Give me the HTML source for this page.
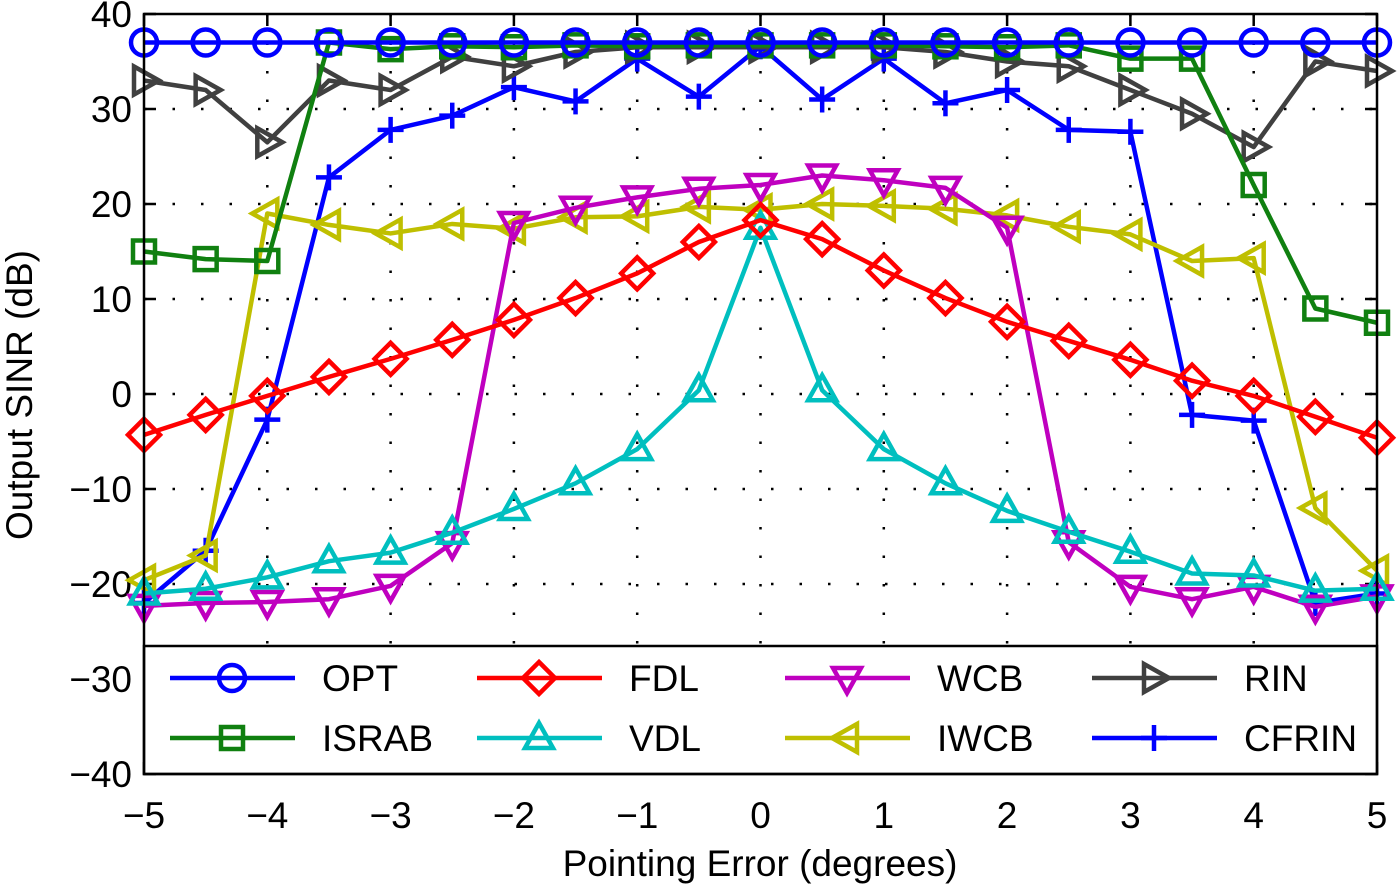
<!DOCTYPE html>
<html><head><meta charset="utf-8"><style>
body{margin:0;background:#fff}
text{font-family:"Liberation Sans",sans-serif;fill:#000}
</style></head><body>
<svg id="c" width="1400" height="887" xmlns="http://www.w3.org/2000/svg"></svg>
<script>
const xVals=[-5,-4.5,-4,-3.5,-3,-2.5,-2,-1.5,-1,-0.5,0,0.5,1,1.5,2,2.5,3,3.5,4,4.5,5];
const xTicks=[-5,-4,-3,-2,-1,0,1,2,3,4,5];
const yTicks=[-40,-30,-20,-10,0,10,20,30,40];
const OPT=[37,37,37,37,37,37,37,37,37,37,37,37,37,37,37,37,37,37,37,37,37];
const ISRAB=[15,14.2,14,37,36.3,36.6,36.5,36.7,36.6,36.7,36.7,36.7,36.7,36.6,36.5,36.7,35.3,35.3,22,9,7.5];
const RIN=[33,32,26.5,33,32,35.5,34.5,36,36.5,36.5,36.5,36.5,36.5,36,35,34.5,32,29.5,26,35,34];
const CFRIN=[-22,-16.5,-2.7,22.8,27.8,29.3,32.3,30.8,35.3,31.3,36.6,31,35.3,30.6,32,27.8,27.6,-2.2,-2.8,-22,-21];
const FDL=[-4.3,-2.2,-0.2,1.8,3.7,5.7,7.8,10.1,12.7,16,18.3,16.3,13,10.1,7.6,5.6,3.6,1.4,-0.2,-2.4,-4.6];
const VDL=[-21,-20.5,-19.3,-17.6,-16.7,-14.6,-12.1,-9.4,-5.8,0.4,17.5,0.4,-5.8,-9.4,-12.3,-14.5,-16.6,-18.9,-19.1,-20.7,-20.5];
const WCB=[-22.3,-22,-21.9,-21.6,-20.2,-15.7,18,19.6,20.7,21.6,22,23,22.5,21.7,17.5,-15.6,-20.3,-21.6,-20.3,-22.4,-21.3];
const IWCB=[-19.6,-17,19,17.8,16.9,17.9,17.4,18.6,18.7,19.7,19.4,20,19.8,19.5,18.8,17.6,16.8,14,14.3,-12,-18.6];
const NS="http://www.w3.org/2000/svg";
const svg=document.getElementById('c');
const X0=144,X1=1377,Y0=14,Y1=774;
const xs=v=>X0+(v+5)/10*(X1-X0);
const ys=v=>Y0+(40-v)/80*(Y1-Y0);
function mk(t,a,p){const e=document.createElementNS(NS,t);for(const k in a)e.setAttribute(k,a[k]);(p||svg).appendChild(e);return e;}
const grid=mk('g',{});


xTicks.forEach(t=>{if(t>-5&&t<5)mk('line',{x1:xs(t),x2:xs(t),y1:Y0,y2:Y1,stroke:'#000','stroke-width':2.5,'stroke-dasharray':'2.5 26'},grid);});
yTicks.forEach(t=>{if(t>-40&&t<40)mk('line',{x1:X0,x2:X1,y1:ys(t),y2:ys(t),stroke:'#000','stroke-width':2.5,'stroke-dasharray':'2.5 26'},grid);});
xTicks.forEach(t=>{
 mk('line',{x1:xs(t),x2:xs(t),y1:Y1,y2:Y1-12,stroke:'#000','stroke-width':2.5});
 mk('line',{x1:xs(t),x2:xs(t),y1:Y0,y2:Y0+12,stroke:'#000','stroke-width':2.5});
 const l=mk('text',{x:xs(t),y:828,'font-size':37,'text-anchor':'middle'});
 
 
 l.textContent=t<0?'\u2212'+(-t):t;
});
yTicks.forEach(t=>{
 mk('line',{x1:X0,x2:X0+12,y1:ys(t),y2:ys(t),stroke:'#000','stroke-width':2.5});
 mk('line',{x1:X1,x2:X1-12,y1:ys(t),y2:ys(t),stroke:'#000','stroke-width':2.5});
 const l=mk('text',{x:132,y:ys(t)+13,'font-size':37,'text-anchor':'end'});
 
 
 l.textContent=t<0?'\u2212'+(-t):t;
});
const xt=mk('text',{x:760,y:876,'font-size':37,'text-anchor':'middle'});


xt.textContent='Pointing Error (degrees)';
const yt=mk('text',{x:0,y:0,'font-size':37,'text-anchor':'middle',transform:'translate(32,395) rotate(-90)'});


yt.textContent='Output SINR (dB)';
function marker(g,type,x,y,c){
 const a={fill:'none',stroke:c,'stroke-width':4.5};
 if(type==='o')mk('circle',Object.assign({cx:x,cy:y,r:13},a),g);
 else if(type==='s')mk('rect',Object.assign({x:x-11,y:y-11,width:22,height:22},a),g);
 else if(type==='d')mk('polygon',Object.assign({points:`${x},${y-16} ${x+16},${y} ${x},${y+16} ${x-16},${y}`},a),g);
 else if(type==='^')mk('polygon',Object.assign({points:`${x},${y-15} ${x+14},${y+10} ${x-14},${y+10}`},a),g);
 else if(type==='v')mk('polygon',Object.assign({points:`${x},${y+15} ${x+14},${y-10} ${x-14},${y-10}`},a),g);
 else if(type==='<')mk('polygon',Object.assign({points:`${x-15},${y} ${x+10},${y-14} ${x+10},${y+14}`},a),g);
 else if(type==='>')mk('polygon',Object.assign({points:`${x+15},${y} ${x-10},${y-14} ${x-10},${y+14}`},a),g);
 else if(type==='+'){mk('line',Object.assign({x1:x-13,x2:x+13,y1:y,y2:y},a),g);mk('line',Object.assign({x1:x,x2:x,y1:y-13,y2:y+13},a),g);}
}
const series=[
 ['OPT',OPT,'#0000ff','o'],['ISRAB',ISRAB,'#108010','s'],['FDL',FDL,'#ff0000','d'],['VDL',VDL,'#00bfbf','^'],
 ['WCB',WCB,'#bf00bf','v'],['IWCB',IWCB,'#bfbf00','<'],['RIN',RIN,'#404040','>'],['CFRIN',CFRIN,'#0000ff','+']];
series.slice().reverse().forEach(([n,d,c,m])=>{
 const g=mk('g',{});
 
 
 mk('polyline',{points:d.map((v,i)=>xs(xVals[i])+','+ys(v)).join(' '),fill:'none',stroke:c,'stroke-width':4.5,'stroke-linejoin':'round'},g);
 d.forEach((v,i)=>marker(g,m,xs(xVals[i]),ys(v),c));
});
const lg=mk('g',{});


mk('rect',{x:X0,y:646,width:X1-X0,height:Y1-646,fill:'#fff',stroke:'#000','stroke-width':2.5},lg);
const order=['OPT','FDL','WCB','RIN','ISRAB','VDL','IWCB','CFRIN'];
const cols=[170,477,785,1092];
order.forEach((n,i)=>{
 const s=series.find(q=>q[0]===n);const cx=cols[i%4],cy=i<4?678:738;
 const e=mk('g',{},lg);
 
 
 mk('line',{x1:cx,x2:cx+125,y1:cy,y2:cy,stroke:s[2],'stroke-width':4.5},e);
 marker(e,s[3],cx+62,cy,s[2]);
 const t=mk('text',{x:cx+152,y:cy+13,'font-size':37},e);t.textContent=n;
});
mk('rect',{x:X0,y:Y0,width:X1-X0,height:Y1-Y0,fill:'none',stroke:'#000','stroke-width':2.5});
</script>
</body></html>
